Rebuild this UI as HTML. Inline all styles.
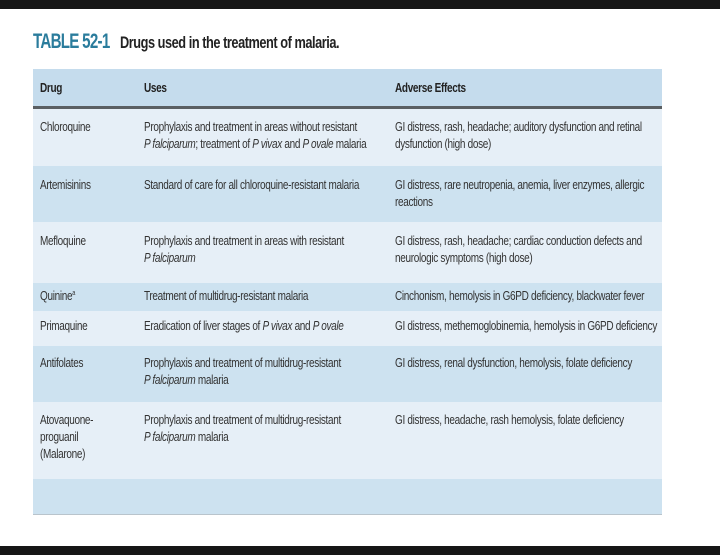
<!DOCTYPE html>
<html><head><meta charset="utf-8"><style>
body{margin:0;width:720px;height:555px;background:#fff;position:relative;overflow:hidden;font-family:"Liberation Sans",sans-serif;}
.bar{position:absolute;left:0;width:720px;background:#161616}
.row{position:absolute;left:33px;width:629px}
.t{position:absolute;font-size:12.5px;line-height:17px;color:#333;letter-spacing:-0.4px;white-space:nowrap;transform:scaleX(0.8);transform-origin:0 0}
.h{font-weight:bold;color:#222}
i{font-style:italic}
</style></head><body>
<div class="bar" style="top:0;height:9px"></div>
<div class="bar" style="top:546px;height:9px"></div>
<div style="position:absolute;left:33px;top:30px;font-size:21px;font-weight:bold;color:#2a7c9c;letter-spacing:-1px;white-space:nowrap;transform:scaleX(0.72);transform-origin:0 0">TABLE 52-1</div>
<div style="position:absolute;left:120px;top:33px;font-size:17px;font-weight:bold;color:#222;letter-spacing:-0.6px;white-space:nowrap;transform:scaleX(0.75);transform-origin:0 0">Drugs used in the treatment of malaria.</div>

<div class="row" style="top:69px;height:38px;background:#c5dced"></div>
<div class="row" style="top:106px;height:3px;background:#5a5f63"></div>
<div class="row" style="top:109px;height:57px;background:#e6eff7"></div>
<div class="row" style="top:166px;height:56px;background:#cde2f0"></div>
<div class="row" style="top:222px;height:61px;background:#e6eff7"></div>
<div class="row" style="top:283px;height:28px;background:#cde2f0"></div>
<div class="row" style="top:311px;height:35px;background:#e6eff7"></div>
<div class="row" style="top:346px;height:56px;background:#cde2f0"></div>
<div class="row" style="top:402px;height:77px;background:#e6eff7"></div>
<div class="row" style="top:479px;height:35px;background:#cde2f0"></div>
<div class="row" style="top:514px;height:1px;background:#b9c4cc"></div>

<div class="t h" style="left:40px;top:80px">Drug</div>
<div class="t h" style="left:144px;top:80px">Uses</div>
<div class="t h" style="left:395px;top:80px">Adverse Effects</div>

<div class="t" style="left:40px;top:119px">Chloroquine</div>
<div class="t" style="left:144px;top:119px">Prophylaxis and treatment in areas without resistant<br><i>P falciparum</i>; treatment of <i>P vivax</i> and <i>P ovale</i> malaria</div>
<div class="t" style="left:395px;top:119px">GI distress, rash, headache; auditory dysfunction and retinal<br>dysfunction (high dose)</div>

<div class="t" style="left:40px;top:177px">Artemisinins</div>
<div class="t" style="left:144px;top:177px">Standard of care for all chloroquine-resistant malaria</div>
<div class="t" style="left:395px;top:177px">GI distress, rare neutropenia, anemia, liver enzymes, allergic<br>reactions</div>

<div class="t" style="left:40px;top:233px">Mefloquine</div>
<div class="t" style="left:144px;top:233px">Prophylaxis and treatment in areas with resistant<br><i>P falciparum</i></div>
<div class="t" style="left:395px;top:233px">GI distress, rash, headache; cardiac conduction defects and<br>neurologic symptoms (high dose)</div>

<div class="t" style="left:40px;top:288px">Quinine<sup style="font-size:7px;line-height:0">a</sup></div>
<div class="t" style="left:144px;top:288px">Treatment of multidrug-resistant malaria</div>
<div class="t" style="left:395px;top:288px">Cinchonism, hemolysis in G6PD deficiency, blackwater fever</div>

<div class="t" style="left:40px;top:318px">Primaquine</div>
<div class="t" style="left:144px;top:318px">Eradication of liver stages of <i>P vivax</i> and <i>P ovale</i></div>
<div class="t" style="left:395px;top:318px">GI distress, methemoglobinemia, hemolysis in G6PD deficiency</div>

<div class="t" style="left:40px;top:355px">Antifolates</div>
<div class="t" style="left:144px;top:355px">Prophylaxis and treatment of multidrug-resistant<br><i>P falciparum</i> malaria</div>
<div class="t" style="left:395px;top:355px">GI distress, renal dysfunction, hemolysis, folate deficiency</div>

<div class="t" style="left:40px;top:412px">Atovaquone-<br>proguanil<br>(Malarone)</div>
<div class="t" style="left:144px;top:412px">Prophylaxis and treatment of multidrug-resistant<br><i>P falciparum</i> malaria</div>
<div class="t" style="left:395px;top:412px">GI distress, headache, rash hemolysis, folate deficiency</div>
</body></html>
